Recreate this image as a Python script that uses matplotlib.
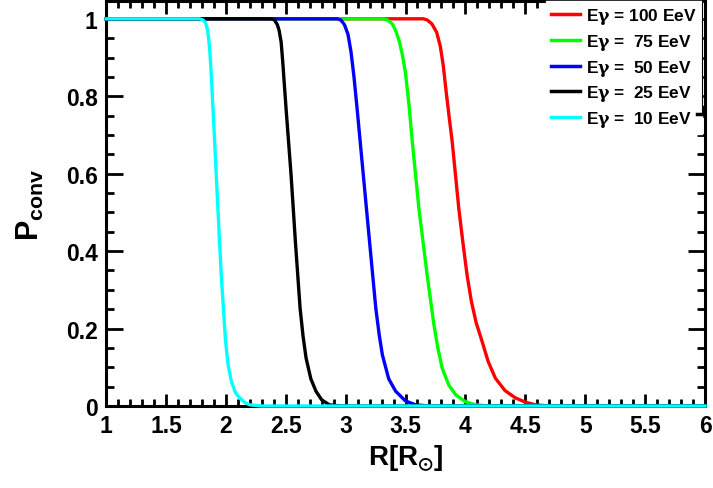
import matplotlib
matplotlib.use("Agg")
import matplotlib.pyplot as plt
from matplotlib.ticker import MultipleLocator
from matplotlib.lines import Line2D

plt.rcParams['font.family'] = ['Liberation Sans', 'DejaVu Sans']
plt.rcParams['font.weight'] = 'bold'
plt.rcParams['mathtext.fontset'] = 'custom'
plt.rcParams['mathtext.rm'] = 'Liberation Sans:bold'
plt.rcParams['mathtext.bf'] = 'Liberation Sans:bold'
plt.rcParams['mathtext.it'] = 'Liberation Sans:bold'
plt.rcParams['mathtext.sf'] = 'DejaVu Serif'
plt.rcParams['mathtext.fallback'] = 'stixsans'

# Кривые: R в солнечных радиусах, P_conv
r_100 = [1.0, 3.65, 3.681, 3.72, 3.76, 3.79, 3.815, 3.84, 3.865, 3.890, 3.945,
         3.98, 4.014, 4.05, 4.09, 4.139, 4.19, 4.25, 4.33, 4.417, 4.50, 4.583,
         4.7, 6.0]
p_100 = [1.0, 1.0, 0.997, 0.987, 0.965, 0.93, 0.88, 0.81, 0.745, 0.682, 0.510,
         0.42, 0.338, 0.27, 0.215, 0.167, 0.115, 0.072, 0.040, 0.021, 0.010, 0.003,
         0.0, 0.0]

r_75 = [1.0, 3.32, 3.349, 3.39, 3.42, 3.45, 3.475, 3.50, 3.53, 3.557, 3.612,
        3.681, 3.737, 3.77, 3.806, 3.86, 3.918, 4.0, 4.084, 4.2, 6.0]
p_75 = [1.0, 1.0, 0.997, 0.987, 0.968, 0.94, 0.905, 0.86, 0.775, 0.682, 0.510,
        0.338, 0.210, 0.15, 0.098, 0.055, 0.029, 0.011, 0.003, 0.0, 0.0]

r_50 = [1.0, 2.93, 2.96, 2.99, 3.02, 3.045, 3.07, 3.096, 3.148, 3.200, 3.252,
        3.28, 3.307, 3.36, 3.418, 3.50, 3.585, 3.7, 6.0]
p_50 = [1.0, 1.0, 0.997, 0.985, 0.96, 0.915, 0.85, 0.768, 0.596, 0.424, 0.253,
        0.185, 0.132, 0.070, 0.038, 0.013, 0.003, 0.0, 0.0]

r_25 = [1.0, 2.38, 2.406, 2.43, 2.445, 2.462, 2.475, 2.503, 2.545, 2.581, 2.620,
        2.645, 2.670, 2.71, 2.753, 2.80, 2.864, 2.93, 3.0, 6.0]
p_25 = [1.0, 1.0, 0.997, 0.985, 0.97, 0.94, 0.89, 0.768, 0.596, 0.424, 0.253,
        0.18, 0.124, 0.070, 0.038, 0.016, 0.003, 0.001, 0.0, 0.0]

r_10 = [1.0, 1.78, 1.81, 1.83, 1.845, 1.857, 1.868, 1.879, 1.907, 1.934, 1.962,
        1.998, 2.02, 2.046, 2.08, 2.115, 2.16, 2.2, 2.3, 6.0]
p_10 = [1.0, 1.0, 0.997, 0.99, 0.975, 0.95, 0.91, 0.854, 0.682, 0.510, 0.338,
        0.167, 0.105, 0.064, 0.035, 0.021, 0.009, 0.003, 0.0, 0.0]

curves = [
    (r_100, p_100, 'red', r'E$\mathsf{\gamma}$ = 100 EeV'),
    (r_75, p_75, '#00ff00', r'E$\mathsf{\gamma}$ =  75 EeV'),
    (r_50, p_50, 'blue', r'E$\mathsf{\gamma}$ =  50 EeV'),
    (r_25, p_25, 'black', r'E$\mathsf{\gamma}$ =  25 EeV'),
    (r_10, p_10, 'cyan', r'E$\mathsf{\gamma}$ =  10 EeV'),
]

fig = plt.figure(figsize=(7.13, 4.89), dpi=100)
ax = fig.add_axes([106 / 713, 82 / 489, 599 / 713, 405 / 489])

for r, p, col, lab in curves:
    ax.plot(r, p, color=col, lw=2.4, label=lab, clip_on=False, zorder=3)

ax.set_xlim(1, 6)
ax.set_ylim(0, 1.046)

ax.xaxis.set_major_locator(MultipleLocator(0.5))
ax.xaxis.set_minor_locator(MultipleLocator(0.1))
ax.yaxis.set_major_locator(MultipleLocator(0.2))
ax.yaxis.set_minor_locator(MultipleLocator(0.05))
ax.xaxis.set_major_formatter(plt.FuncFormatter(lambda v, _: f'{v:g}'))
ax.yaxis.set_major_formatter(plt.FuncFormatter(lambda v, _: f'{v:g}'))

ax.tick_params(axis='both', which='both', direction='in', top=True, right=True,
               width=2.0, labelsize=16.5)
ax.tick_params(axis='x', which='major', length=9, pad=6)
ax.tick_params(axis='x', which='minor', length=5)
ax.tick_params(axis='y', which='major', length=12, pad=6)
ax.tick_params(axis='y', which='minor', length=6)
for s in ax.spines.values():
    s.set_linewidth(2.2)

ax.set_xlabel(r'$\mathbf{R[R}_{\odot}\mathbf{]}$', fontsize=20, labelpad=4)
ax.set_ylabel(r'$\mathbf{P}_{\mathbf{conv}}$', fontsize=22, labelpad=14)

leg = ax.legend(loc='upper left', bbox_to_anchor=(546 / 713, 1 - 2 / 489),
                bbox_transform=fig.transFigure, frameon=True, fancybox=False,
                fontsize=12.4, handlelength=1.65, handletextpad=0.4,
                labelspacing=0.33, borderpad=0.3, borderaxespad=0)
leg.get_frame().set_facecolor('white')
leg.get_frame().set_edgecolor('white')
leg.get_frame().set_alpha(1)
leg.set_zorder(10)
for h in leg.get_lines():
    h.set_linewidth(2.5)

# край легенды с тенью как в ROOT
fig.add_artist(Line2D([702 / 713, 702 / 713], [1.0, 1 - 113 / 489], color='black', lw=0.8))
fig.add_artist(Line2D([697 / 713, 704 / 713, 704 / 713], [1 - 115 / 489, 1 - 115 / 489, 1 - 108 / 489],
                      color='black', lw=2.5))

fig.savefig('out.png', dpi=100)
